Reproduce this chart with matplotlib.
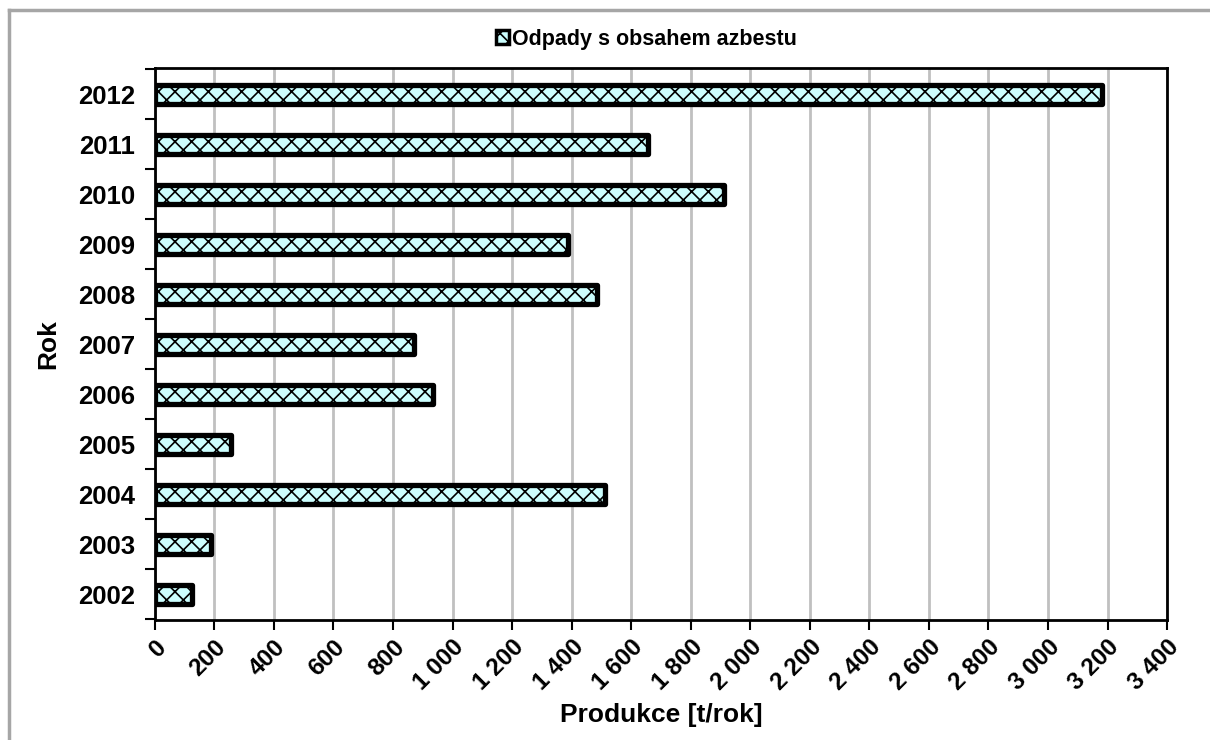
import matplotlib.pyplot as plt
from matplotlib.ticker import FixedLocator, FuncFormatter
from matplotlib.lines import Line2D
import matplotlib.patches as mpatches

plt.rcParams['font.family'] = ['Liberation Sans', 'DejaVu Sans']
plt.rcParams['font.weight'] = 'bold'
plt.rcParams['hatch.color'] = '#3c3c3c'
plt.rcParams['hatch.linewidth'] = 1.2

# data
years = ["2002", "2003", "2004", "2005", "2006", "2007", "2008", "2009", "2010", "2011", "2012"]
produkce = [124, 188, 1512, 255, 934, 870, 1485, 1388, 1912, 1656, 3182]
series_name = "Odpady s obsahem azbestu"
x_ticks = list(range(0, 3401, 200))

fig = plt.figure(figsize=(12.1, 7.4), dpi=100)
ax = fig.add_axes([0.128, 0.162, 0.8365, 0.746])

pos = list(range(len(years)))
bars = ax.barh(pos, produkce, height=0.38, color='#ccffff', edgecolor='black',
               linewidth=3.8, hatch='xx', zorder=3, label=series_name)
for b in bars:
    b.set_joinstyle('round')

ax.set_xlim(0, 3400)
ax.set_ylim(-0.52, len(years) - 0.48)
ax.set_xticks(x_ticks)
ax.xaxis.set_major_formatter(FuncFormatter(lambda v, p: f"{int(v):,}".replace(",", " ")))
ax.set_yticks(pos)
ax.set_yticklabels(years)
ax.yaxis.set_minor_locator(FixedLocator([p + 0.5 for p in range(-1, len(years))]))
ax.tick_params(axis='y', which='major', length=0, labelsize=18.5, pad=14)
ax.tick_params(axis='y', which='minor', length=7, width=1.5, direction='out')
ax.tick_params(axis='x', length=7, width=1.5, direction='out', labelsize=17.5, pad=4)
for lab in ax.get_xticklabels():
    lab.set_rotation(45)
    lab.set_ha('right')
    lab.set_va('top')
    lab.set_rotation_mode('anchor')

ax.grid(axis='x', color='#c0c0c0', linewidth=2, zorder=0)
for s in ax.spines.values():
    s.set_linewidth(2)
    s.set_color('black')

ax.set_xlabel("Produkce [t/rok]", fontsize=19, fontweight='bold', labelpad=6)
ax.set_ylabel("Rok", fontsize=19, fontweight='bold', labelpad=13)

fig.legend(handles=[mpatches.Patch(facecolor='#ccffff', edgecolor='black', linewidth=2.5, hatch='xx')],
           labels=[series_name], loc='center', bbox_to_anchor=(0.534, 0.947),
           frameon=False, fontsize=15.5, handlelength=0.6, handleheight=0.6,
           handletextpad=0.15)

# outer chart-area border (only left and top are visible)
fig.add_artist(Line2D([0.0074, 0.0074], [0.0, 0.9865], color='#a6a6a6', linewidth=2.5, transform=fig.transFigure))
fig.add_artist(Line2D([0.0074, 1.0], [0.9865, 0.9865], color='#a6a6a6', linewidth=2.5, transform=fig.transFigure))

fig.savefig("out.png", dpi=100, facecolor='white')
